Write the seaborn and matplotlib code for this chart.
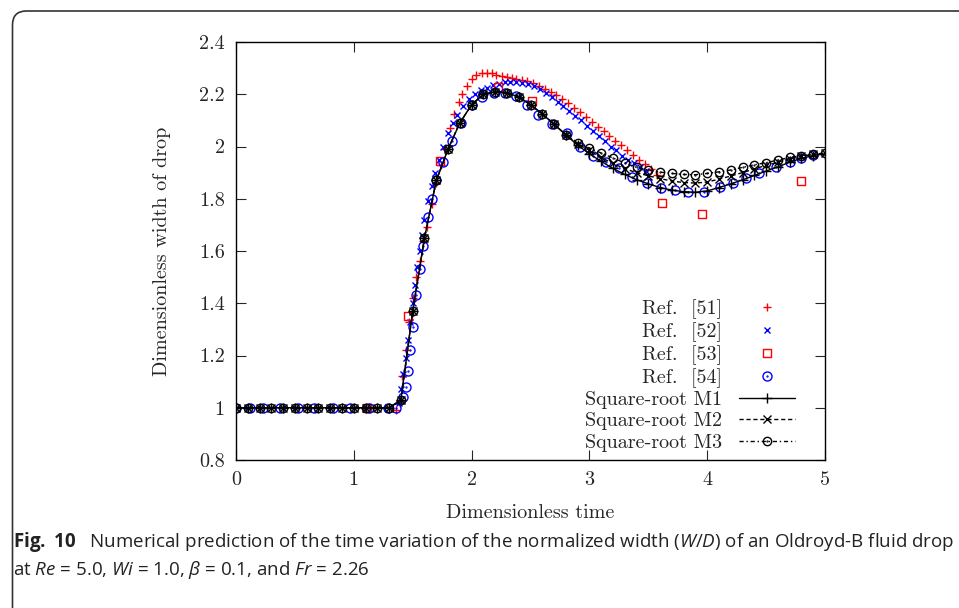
import numpy as np
import pandas as pd
import seaborn as sns
import matplotlib.pyplot as plt
from matplotlib.path import Path
from matplotlib.patches import FancyBboxPatch
from matplotlib.transforms import IdentityTransform

sns.set_style("ticks")
plt.rcParams["font.family"] = ["cmr10", "DejaVu Serif"]
plt.rcParams["mathtext.fontset"] = "custom"
plt.rcParams["mathtext.rm"] = "Open Sans"
plt.rcParams["mathtext.it"] = "Open Sans:italic"
plt.rcParams["mathtext.bf"] = "Open Sans:bold"

# time grid of the square-root runs
t_m = [0.0, 0.1, 0.2, 0.3, 0.4, 0.5, 0.6, 0.7, 0.8, 0.9,
       1.0, 1.1, 1.2, 1.3, 1.4, 1.5, 1.6, 1.7, 1.8, 1.9,
       2.0, 2.1, 2.2, 2.3, 2.4, 2.5, 2.6, 2.7, 2.8, 2.9,
       3.0, 3.1, 3.2, 3.3, 3.4, 3.5, 3.6, 3.7, 3.8, 3.9,
       4.0, 4.1, 4.2, 4.3, 4.4, 4.5, 4.6, 4.7, 4.8, 4.9, 5.0]

m1 = [1.0, 1.0, 1.0, 1.0, 1.0, 1.0, 1.0, 1.0, 1.0, 1.0,
      1.0, 1.0, 1.0, 1.0, 1.03, 1.37, 1.65, 1.87, 1.99, 2.09,
      2.16, 2.20, 2.21, 2.205, 2.19, 2.16, 2.125, 2.085, 2.045, 2.005,
      1.972, 1.943, 1.916, 1.893, 1.873, 1.857, 1.843, 1.833, 1.827, 1.825,
      1.830, 1.843, 1.857, 1.872, 1.889, 1.906, 1.922, 1.940, 1.955, 1.965, 1.972]

m2 = [1.0, 1.0, 1.0, 1.0, 1.0, 1.0, 1.0, 1.0, 1.0, 1.0,
      1.0, 1.0, 1.0, 1.0, 1.03, 1.37, 1.65, 1.87, 1.99, 2.09,
      2.16, 2.20, 2.21, 2.205, 2.19, 2.16, 2.125, 2.085, 2.045, 2.01,
      1.985, 1.958, 1.935, 1.915, 1.900, 1.888, 1.877, 1.868, 1.862, 1.860,
      1.864, 1.875, 1.887, 1.900, 1.914, 1.928, 1.940, 1.953, 1.962, 1.970, 1.975]

m3 = [1.0, 1.0, 1.0, 1.0, 1.0, 1.0, 1.0, 1.0, 1.0, 1.0,
      1.0, 1.0, 1.0, 1.0, 1.03, 1.37, 1.65, 1.87, 1.99, 2.09,
      2.16, 2.20, 2.21, 2.205, 2.19, 2.16, 2.125, 2.085, 2.045, 2.015,
      1.994, 1.975, 1.956, 1.937, 1.920, 1.910, 1.902, 1.897, 1.893, 1.892,
      1.897, 1.903, 1.910, 1.920, 1.930, 1.938, 1.948, 1.958, 1.965, 1.970, 1.975]

# Ref. [51]
t51 = [1.36, 1.39, 1.41, 1.44, 1.47, 1.50, 1.53, 1.56, 1.59, 1.62,
       1.66, 1.70, 1.74, 1.77, 1.82, 1.85, 1.89, 1.92, 1.96, 2.00,
       2.04, 2.09, 2.13, 2.17, 2.21, 2.26, 2.30, 2.34, 2.38, 2.43,
       2.47, 2.52, 2.57, 2.62, 2.67, 2.72, 2.77, 2.82, 2.87, 2.92,
       2.97, 3.02, 3.07, 3.12, 3.17, 3.22, 3.27, 3.32, 3.37, 3.42,
       3.47, 3.52, 3.57]
y51 = [0.99, 1.02, 1.12, 1.22, 1.33, 1.42, 1.50, 1.56, 1.64, 1.69,
       1.78, 1.86, 1.93, 1.99, 2.07, 2.125, 2.17, 2.20, 2.23, 2.26,
       2.274, 2.28, 2.283, 2.28, 2.274, 2.27, 2.265, 2.262, 2.258, 2.254,
       2.25, 2.243, 2.233, 2.222, 2.21, 2.197, 2.182, 2.166, 2.149, 2.131,
       2.113, 2.094, 2.076, 2.058, 2.04, 2.022, 2.004, 1.986, 1.968, 1.95,
       1.932, 1.912, 1.89]

# Ref. [52]
t52 = [1.38, 1.40, 1.42, 1.44, 1.46, 1.48, 1.50, 1.52, 1.54, 1.56,
       1.58, 1.60, 1.63, 1.66, 1.69, 1.72, 1.76, 1.80, 1.84, 1.88,
       1.93, 1.98, 2.03, 2.08, 2.13, 2.18, 2.23, 2.28, 2.33, 2.38,
       2.43, 2.48, 2.53, 2.58, 2.63, 2.68, 2.73, 2.78, 2.83, 2.88,
       2.93, 2.98, 3.03, 3.08, 3.13, 3.18, 3.23, 3.28, 3.33, 3.38,
       3.43, 3.48]
y52 = [1.02, 1.07, 1.13, 1.19, 1.26, 1.33, 1.40, 1.47, 1.54, 1.60,
       1.66, 1.72, 1.79, 1.85, 1.90, 1.95, 2.00, 2.05, 2.09, 2.12,
       2.155, 2.18, 2.20, 2.215, 2.225, 2.235, 2.24, 2.245, 2.247, 2.246,
       2.243, 2.238, 2.23, 2.22, 2.205, 2.19, 2.17, 2.155, 2.135, 2.115,
       2.10, 2.08, 2.06, 2.04, 2.02, 2.00, 1.985, 1.965, 1.95, 1.935,
       1.92, 1.905]

# Ref. [53]
t53 = [1.11, 1.46, 1.73, 2.22, 2.51, 3.62, 3.96, 4.80]
y53 = [1.0, 1.35, 1.945, 2.228, 2.174, 1.784, 1.742, 1.868]

# Ref. [54]
t54 = [0.0, 0.12, 0.23, 0.37, 0.53, 0.66, 0.82, 0.97, 1.13, 1.29,
       1.36, 1.42, 1.44, 1.46, 1.48, 1.50, 1.53, 1.56, 1.59, 1.63,
       1.66, 1.70, 1.76, 1.83, 1.91, 2.00, 2.09, 2.19, 2.28, 2.38,
       2.47, 2.56, 2.68, 2.81, 2.92, 3.03, 3.14, 3.25, 3.36, 3.49,
       3.61, 3.73, 3.84, 3.97, 4.11, 4.22, 4.33, 4.44, 4.58, 4.70,
       4.80, 4.90]
y54 = [1.0, 1.0, 1.0, 1.0, 1.0, 1.0, 1.0, 1.0, 1.0, 1.0,
       1.0, 1.04, 1.08, 1.14, 1.22, 1.31, 1.43, 1.53, 1.62, 1.73,
       1.80, 1.87, 1.94, 2.02, 2.09, 2.16, 2.19, 2.205, 2.205, 2.195,
       2.16, 2.12, 2.085, 2.05, 2.0, 1.964, 1.94, 1.917, 1.884, 1.859,
       1.843, 1.834, 1.827, 1.827, 1.844, 1.861, 1.878, 1.897, 1.92, 1.942,
       1.955, 1.967]

xticks = [0, 1, 2, 3, 4, 5]
xtick_labels = ["0", "1", "2", "3", "4", "5"]
yticks = [0.8, 1.0, 1.2, 1.4, 1.6, 1.8, 2.0, 2.2, 2.4]
ytick_labels = ["0.8", "1", "1.2", "1.4", "1.6", "1.8", "2", "2.2", "2.4"]

# gnuplot-like markers with a dot in the middle
sq = Path([(-1, -1), (1, -1), (1, 1), (-1, 1), (-1, -1)],
          [Path.MOVETO, Path.LINETO, Path.LINETO, Path.LINETO, Path.CLOSEPOLY])
dot_sq = Path([(-0.1, -0.1), (0.1, -0.1), (0.1, 0.1), (-0.1, 0.1), (-0.1, -0.1)],
              [Path.MOVETO, Path.LINETO, Path.LINETO, Path.LINETO, Path.CLOSEPOLY])
box_dot = Path.make_compound_path(sq, dot_sq)
circ = Path.unit_circle()
circ_dot = Path.make_compound_path(circ, Path(circ.vertices * 0.1, circ.codes))

fig = plt.figure(figsize=(9.59, 6.08), dpi=100)
ax = fig.add_axes([236 / 959, 1 - 460 / 608, 589 / 959, 418 / 608])

sns.lineplot(x=t51, y=y51, ax=ax, linestyle="none", marker="+", markersize=6,
             color="#ff0000", markeredgecolor="#ff0000", markeredgewidth=1.0,
             label="Ref.  [51]")
sns.lineplot(x=t52, y=y52, ax=ax, linestyle="none", marker="x", markersize=5,
             color="#0000ff", markeredgecolor="#0000ff", markeredgewidth=1.0,
             label="Ref.  [52]")
sns.lineplot(x=t53, y=y53, ax=ax, linestyle="none", marker=box_dot, markersize=6,
             color="#ff0000", markeredgecolor="#ff0000", markerfacecolor="none",
             markeredgewidth=1.0, label="Ref.  [53]")
sns.lineplot(x=t54, y=y54, ax=ax, linestyle="none", marker=circ_dot, markersize=6.5,
             color="#0000ff", markeredgecolor="#0000ff", markerfacecolor="none",
             markeredgewidth=1.0, label="Ref.  [54]")
sns.lineplot(x=t_m, y=m1, ax=ax, color="black", linewidth=1.0, linestyle="-",
             marker="+", markersize=7, markeredgecolor="black", markeredgewidth=1.0,
             label="Square-root M1")
sns.lineplot(x=t_m, y=m2, ax=ax, color="black", linewidth=1.0, linestyle=(0, (3, 2)),
             marker="x", markersize=5.5, markeredgecolor="black", markeredgewidth=1.0,
             label="Square-root M2")
sns.lineplot(x=t_m, y=m3, ax=ax, color="black", linewidth=1.0, linestyle=(0, (3, 2, 1, 2)),
             marker=circ_dot, markersize=6, markeredgecolor="black",
             markerfacecolor="none", markeredgewidth=1.0, label="Square-root M3")

ax.set_xlim(0, 5)
ax.set_ylim(0.8, 2.4)
ax.set_xticks(xticks, labels=xtick_labels)
ax.set_yticks(yticks, labels=ytick_labels)
ax.tick_params(direction="in", top=True, right=True, length=7, width=0.8,
               labelsize=14.5, pad=8)
for s in ax.spines.values():
    s.set_linewidth(1.0)
    s.set_color("black")
ax.set_xlabel("Dimensionless time", fontsize=14.5, labelpad=11)
ax.set_ylabel("Dimensionless width of drop", fontsize=14.5, labelpad=20)

ax.legend(loc="lower right", bbox_to_anchor=(0.949, 0.02), frameon=False,
          markerfirst=False, fontsize=14.5, handlelength=2.8, handletextpad=0.8,
          labelspacing=0.16, borderpad=0, borderaxespad=0)

# caption under the chart
fig.text(13 / 959, 1 - 547 / 608,
         r"$\mathbf{Fig.\ 10}$   Numerical prediction of the time variation of the normalized width "
         r"($\mathit{W}/\mathit{D}$) of an Oldroyd-B fluid drop",
         fontsize=13.5, family="Open Sans", color="#222222")
fig.text(13 / 959, 1 - 575 / 608,
         r"at $\mathit{Re}$ = 5.0, $\mathit{Wi}$ = 1.0, $\beta$ = 0.1, and $\mathit{Fr}$ = 2.26",
         fontsize=13.5, family="Open Sans", color="#222222")

# rounded frame around the figure
frame = FancyBboxPatch((12.5, -60), 1100, 608 - 11 + 60,
                       boxstyle="round,pad=0,rounding_size=14",
                       transform=IdentityTransform(), fill=False,
                       edgecolor="#333333", linewidth=1.2)
fig.patches.append(frame)

fig.savefig("out.png", dpi=100)
